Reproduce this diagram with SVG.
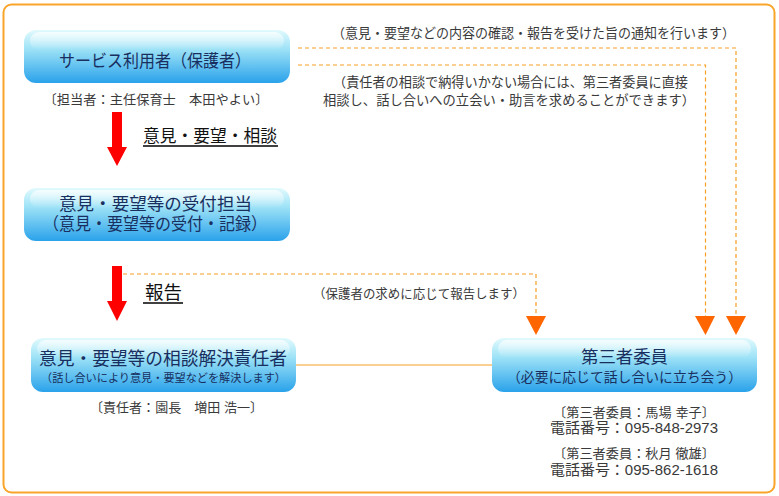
<svg xmlns="http://www.w3.org/2000/svg" width="779" height="496" viewBox="0 0 779 496">
<defs>
<linearGradient id="boxg" x1="0" y1="0" x2="0" y2="1">
<stop offset="0" stop-color="#e2fafd"/>
<stop offset="0.35" stop-color="#9fe3f7"/>
<stop offset="1" stop-color="#2aa2ea"/>
</linearGradient>
<linearGradient id="gloss" x1="0" y1="0" x2="0" y2="1">
<stop offset="0" stop-color="#ffffff" stop-opacity="0.7"/>
<stop offset="1" stop-color="#ffffff" stop-opacity="0"/>
</linearGradient>
</defs>
<style>
.box{fill:url(#boxg);}
.gl{fill:url(#gloss);}
text{font-family:"Liberation Sans","Noto Sans CJK JP",sans-serif;text-anchor:middle;}
.bt{fill:#182f60;}
.gt{fill:#3a3a3a;}
.lt{fill:#111;}
.dash{fill:none;stroke:#f7a024;stroke-width:1.2;stroke-dasharray:4 3;}
.solid{fill:none;stroke:#f7a024;stroke-width:1.2;}
.head{fill:#ff6600;}
.red{fill:#ff0000;}
.ul{stroke:#000;stroke-width:1.3;}
</style>
<rect x="3.5" y="4.5" width="771" height="488" rx="8" fill="#fff" stroke="#f9a52a" stroke-width="2"/>

<g id="connectors">
<path class="dash" d="M298,48 H736 V316"/>
<path class="dash" d="M298,65 H705.5 V316"/>
<path class="dash" d="M123,274 H536 V316"/>
<path class="solid" d="M296,365 H492"/>
<path class="head" d="M526,316 L546,316 L536,335 Z"/>
<path class="head" d="M695,316 L715,316 L705.5,335 Z"/>
<path class="head" d="M726,316 L746,316 L736,335 Z"/>
<path class="red" d="M112,112 H122 V147 H127 L117,166 L107,147 H112 Z"/>
<path class="red" d="M112,266 H122 V301 H127 L117,321 L107,301 H112 Z"/>
</g>

<g id="label-top1">
<text class="gt" x="533.5" y="37.5" font-size="13.4" textLength="403" lengthAdjust="spacingAndGlyphs">（意見・要望などの内容の確認・報告を受けた旨の通知を行います）</text>
</g>
<g id="label-top2">
<text class="gt" font-size="13.2"><tspan x="510.5" y="86.5" textLength="355" lengthAdjust="spacingAndGlyphs">（責任者の相談で納得いかない場合には、第三者委員に直接</tspan><tspan x="509" y="104.5" textLength="372" lengthAdjust="spacingAndGlyphs">相談し、話し合いへの立会い・助言を求めることができます）</tspan></text>
</g>
<g id="label-report">
<text class="gt" x="419" y="297.5" font-size="12.6" textLength="212" lengthAdjust="spacingAndGlyphs">（保護者の求めに応じて報告します）</text>
</g>

<g id="label-soudan">
<text class="lt" x="210" y="142" font-size="17" textLength="134" lengthAdjust="spacingAndGlyphs">意見・要望・相談</text>
<line class="ul" x1="143" y1="146" x2="278" y2="146"/>
</g>
<g id="label-houkoku">
<text class="lt" x="163.5" y="299" font-size="18" textLength="37" lengthAdjust="spacingAndGlyphs">報告</text>
<line class="ul" x1="143" y1="303" x2="183" y2="303"/>
</g>

<g id="node-user">
<rect class="box" x="24" y="30" width="266" height="53" rx="12"/>
<rect class="gl" x="30" y="32" width="254" height="18" rx="9"/>
<text class="bt" x="155" y="66.5" font-size="17.5" textLength="192" lengthAdjust="spacingAndGlyphs">サービス利用者（保護者）</text>
<text class="gt" x="156" y="103.5" font-size="13" textLength="225" lengthAdjust="spacingAndGlyphs">〔担当者：主任保育士　本田やよい〕</text>
</g>

<g id="node-uketsuke">
<rect class="box" x="24" y="188" width="266" height="53" rx="12"/>
<rect class="gl" x="30" y="190" width="254" height="18" rx="9"/>
<text class="bt" font-size="17.2"><tspan x="155.5" y="210.3" textLength="193" lengthAdjust="spacingAndGlyphs">意見・要望等の受付担当</tspan><tspan x="155" y="229.5" textLength="224" lengthAdjust="spacingAndGlyphs">（意見・要望等の受付・記録）</tspan></text>
</g>

<g id="node-sekinin">
<rect class="box" x="31" y="338" width="265" height="54" rx="12"/>
<rect class="gl" x="37" y="340" width="253" height="18" rx="9"/>
<text class="bt"><tspan x="163" y="364.5" font-size="18" textLength="248" lengthAdjust="spacingAndGlyphs">意見・要望等の相談解決責任者</tspan><tspan x="163.5" y="382" font-size="11.2" textLength="245" lengthAdjust="spacingAndGlyphs">（話し合いにより意見・要望などを解決します）</tspan></text>
<text class="gt" x="176.5" y="411.5" font-size="13" textLength="173" lengthAdjust="spacingAndGlyphs">〔責任者：園長　増田 浩一〕</text>
</g>

<g id="node-daisansha">
<rect class="box" x="492" y="338" width="265" height="54" rx="12"/>
<rect class="gl" x="498" y="340" width="253" height="18" rx="9"/>
<text class="bt"><tspan x="624.5" y="363" font-size="17.5" textLength="87" lengthAdjust="spacingAndGlyphs">第三者委員</tspan><tspan x="624.5" y="382" font-size="14" textLength="235" lengthAdjust="spacingAndGlyphs">（必要に応じて話し合いに立ち会う）</tspan></text>
<text class="gt"><tspan x="634" y="416.5" font-size="13" textLength="162" lengthAdjust="spacingAndGlyphs">〔第三者委員：馬場 幸子〕</tspan><tspan x="634" y="433" font-size="14.5" textLength="168" lengthAdjust="spacingAndGlyphs">電話番号：095-848-2973</tspan></text>
<text class="gt"><tspan x="634" y="457.5" font-size="13" textLength="162" lengthAdjust="spacingAndGlyphs">〔第三者委員：秋月 徹雄〕</tspan><tspan x="634" y="475" font-size="14.5" textLength="168" lengthAdjust="spacingAndGlyphs">電話番号：095-862-1618</tspan></text>
</g>
</svg>
